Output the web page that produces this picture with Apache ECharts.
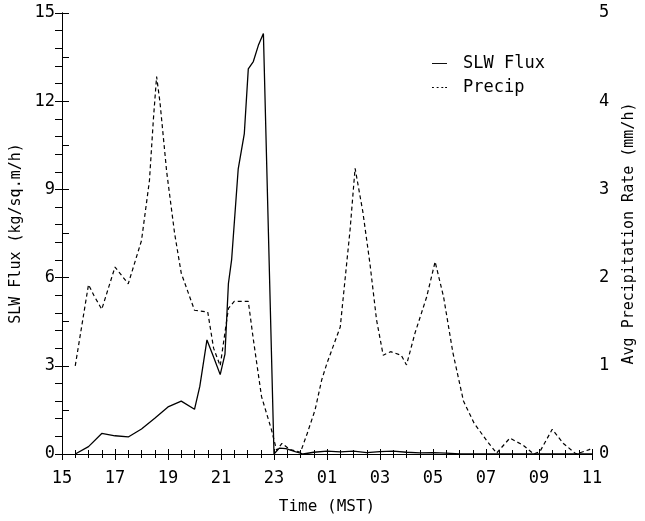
<!DOCTYPE html>
<html>
<head>
<meta charset="utf-8">
<script src="https://cdn.jsdelivr.net/npm/echarts@6/dist/echarts.min.js"></script>
<style>
html,body{margin:0;padding:0;background:#fff;}
#chart{width:645px;height:521px;}
</style>
</head>
<body>
<div id="chart"></div>
<script>
// Time axis: clock hours, continuing past midnight (25 = 01 next day)
var xStart = 15, xEnd = 35;
var xTickLabels = ['15','17','19','21','23','01','03','05','07','09','11'];

// SLW Flux (kg/sq.m/h), left axis
var slwTimes  = [15.5,16.0,16.5,17.0,17.5,18.0,18.5,19.0,19.5,20.0,20.2,20.47,20.72,20.97,21.15,21.28,21.4,21.65,21.88,22.03,22.22,22.41,22.6,23.0,23.2,23.45,23.8,24.1,24.5,25.0,25.5,26.0,26.5,27.0,27.5,28.0,28.5,29.0,29.5,30.0,35.0];
var slwValues = [0,0.25,0.7,0.62,0.58,0.85,1.22,1.6,1.8,1.52,2.3,3.88,3.3,2.7,3.4,5.8,6.6,9.7,10.9,13.1,13.35,13.9,14.3,0,0.2,0.18,0.08,0,0.06,0.1,0.07,0.1,0.05,0.08,0.1,0.06,0.04,0.05,0.03,0,0];

// Avg Precipitation Rate (mm/h), right axis
var precipTimes  = [15.5,16.0,16.2,16.5,17.0,17.5,18.0,18.3,18.45,18.57,18.7,18.95,19.25,19.5,20.0,20.5,20.72,20.97,21.28,21.5,22.03,22.22,22.53,22.9,23.1,23.3,23.6,24.0,24.25,24.55,24.8,25.0,25.5,25.87,26.06,26.35,26.62,26.87,27.12,27.4,27.8,28.0,28.32,28.76,29.08,29.4,29.75,30.15,30.55,31.03,31.4,31.9,32.4,32.8,33.04,33.5,33.92,34.4,34.9,35.0];
var precipValues = [1.0,1.92,1.8,1.64,2.12,1.93,2.42,3.1,3.8,4.28,3.98,3.2,2.5,2.05,1.63,1.61,1.2,1.0,1.65,1.73,1.73,1.3,0.65,0.28,0.04,0.12,0.05,0.02,0.23,0.5,0.84,1.03,1.44,2.54,3.24,2.75,2.16,1.52,1.12,1.16,1.12,1.01,1.37,1.78,2.18,1.78,1.15,0.6,0.35,0.15,0.01,0.18,0.1,0,0.03,0.28,0.12,0,0.05,0.08];

function pairs(ts, vs){ return ts.map(function(t,i){ return [t - xStart, vs[i]]; }); }

var FONT = 'DejaVu Sans Mono';
var chart = echarts.init(document.getElementById('chart'), null, {renderer:'canvas'});
var axisLine = {show:true, lineStyle:{color:'#000', width:1}};
var option = {
  backgroundColor:'#fff',
  animation:false,
  grid:{left:62, right:52, top:13, bottom:67, containLabel:false},
  legend:{
    show:true, orient:'vertical', left:427, top:50, itemGap:7, itemWidth:15, itemHeight:2,
    textStyle:{fontFamily:FONT, fontSize:17, color:'#000', padding:[0,0,0,11]},
    data:[
      {name:'SLW Flux', icon:'path://M0,0L16,0L16,1L0,1Z'},
      {name:'Precip', icon:'path://M0,0h2v1h-2zM5,0h2v1h-2zM10,0h2v1h-2zM14,0h2v1h-2z'}
    ]
  },
  xAxis:[{
    type:'value', min:0, max:xEnd - xStart, interval:2, position:'bottom',
    name:'Time (MST)', nameLocation:'middle', nameGap:45,
    nameTextStyle:{fontFamily:FONT, fontSize:16, color:'#000'},
    axisLine:axisLine,
    axisTick:{show:true, inside:true, length:5, lineStyle:{color:'#000'}},
    minorTick:{show:true, splitNumber:4, length:4, lineStyle:{color:'#000'}},
    axisLabel:{fontFamily:FONT, fontSize:17, color:'#000', margin:16,
      formatter:function(v){ return xTickLabels[Math.round(v/2)]; }},
    splitLine:{show:false}
  },{
    type:'value', min:0, max:xEnd - xStart, interval:2, position:'top',
    axisLine:axisLine,
    axisTick:{show:true, inside:true, length:6, lineStyle:{color:'#000'}},
    minorTick:{show:true, splitNumber:4, length:4, lineStyle:{color:'#000'}},
    axisLabel:{show:false}, splitLine:{show:false}
  }],
  yAxis:[{
    type:'value', min:0, max:15, interval:3, position:'left',
    name:'SLW Flux (kg/sq.m/h)', nameLocation:'middle', nameGap:33, nameRotate:90,
    nameTextStyle:{fontFamily:FONT, fontSize:15, color:'#000'},
    axisLine:axisLine,
    axisTick:{show:true, inside:true, length:7, lineStyle:{color:'#000'}},
    minorTick:{show:true, splitNumber:2, length:7, lineStyle:{color:'#000'}},
    axisLabel:{fontFamily:FONT, fontSize:17, color:'#000', margin:7},
    splitLine:{show:false}
  },{
    type:'value', min:0, max:5, interval:1, position:'right',
    name:'Avg Precipitation Rate (mm/h)', nameLocation:'middle', nameGap:30, nameRotate:90,
    nameTextStyle:{fontFamily:FONT, fontSize:15, color:'#000'},
    axisLine:axisLine,
    axisTick:{show:true, inside:true, length:7, lineStyle:{color:'#000'}},
    minorTick:{show:true, splitNumber:5, length:7, lineStyle:{color:'#000'}},
    axisLabel:{fontFamily:FONT, fontSize:17, color:'#000', margin:7},
    splitLine:{show:false}
  }],
  series:[{
    name:'SLW Flux', type:'line', xAxisIndex:0, yAxisIndex:0,
    data:pairs(slwTimes, slwValues), showSymbol:false, symbol:'none',
    lineStyle:{color:'#000', width:1.3}, itemStyle:{color:'#000'}
  },{
    name:'Precip', type:'line', xAxisIndex:0, yAxisIndex:1,
    data:pairs(precipTimes, precipValues), showSymbol:false, symbol:'none',
    lineStyle:{color:'#000', width:1.2, type:[4,3]}, itemStyle:{color:'#000'}
  }]
};
chart.setOption(option);
</script>
</body>
</html>
